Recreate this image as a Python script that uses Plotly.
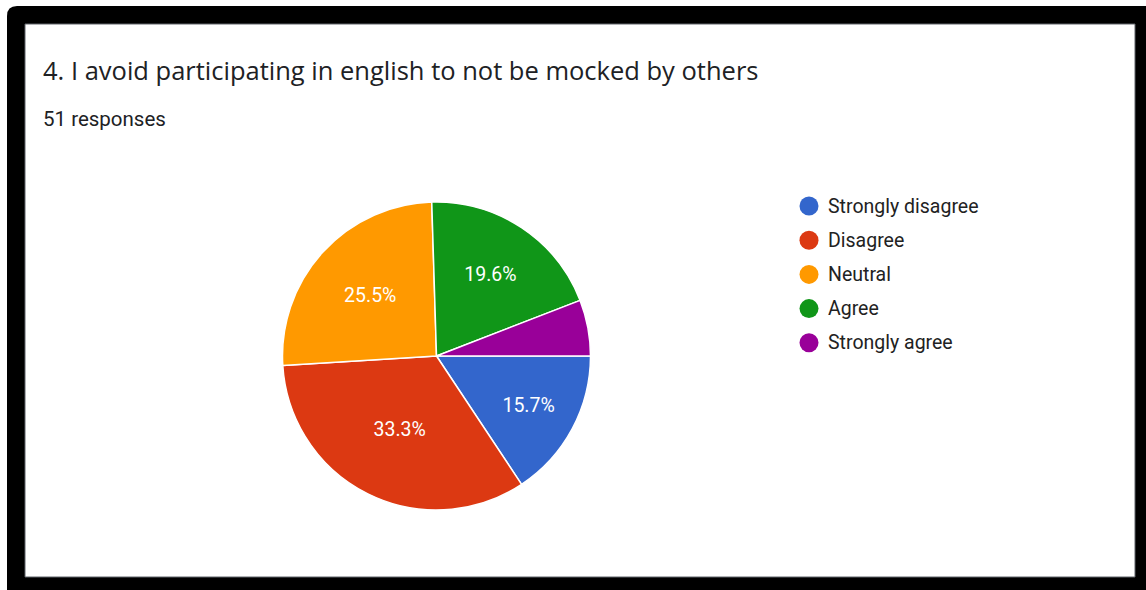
import plotly.graph_objects as go

# Survey answers (51 responses)
categories = ["Strongly disagree", "Disagree", "Neutral", "Agree", "Strongly agree"]
counts = [8, 17, 13, 10, 3]
colors = ["#3366CC", "#DC3912", "#FF9900", "#109618", "#990099"]
title_text = "4. I avoid participating in english to not be mocked by others"
subtitle_text = f"{sum(counts)} responses"

W, H = 1146, 590


def px(x):
    return x / W


def py(y):
    return 1 - y / H


total = sum(counts)
# Small slices get no label, like the Forms summary chart
templates = ["%{percent:.1%}" if c / total >= 0.08 else "" for c in counts]

fig = go.Figure()
cx, cy, r = 436.5, 356, 154
fig.add_trace(go.Pie(
    labels=categories,
    values=counts,
    marker=dict(colors=colors, line=dict(color="white", width=1.5)),
    sort=False,
    direction="clockwise",
    rotation=90,
    texttemplate=templates,
    textposition="inside",
    insidetextorientation="horizontal",
    insidetextfont=dict(family="Roboto, Arial, sans-serif", size=19.5, color="white"),
    hoverinfo="label+percent",
    showlegend=False,
    domain=dict(x=[px(cx - r), px(cx + r)], y=[py(cy + r), py(cy - r)]),
))

shapes = []
# Black outer frame with a rounded top-left corner
rc = 10
frame_path = (
    f"M {px(7)} {py(6 + rc)} Q {px(7)} {py(6)} {px(7 + rc)} {py(6)} "
    f"L {px(W + 5)} {py(6)} L {px(W + 5)} {py(H + 5)} L {px(7)} {py(H + 5)} Z"
)
shapes.append(dict(type="path", xref="paper", yref="paper", path=frame_path,
                   fillcolor="black", line=dict(width=0), layer="below"))
# White card inside the frame
shapes.append(dict(type="rect", xref="paper", yref="paper",
                   x0=px(25), x1=px(1135), y0=py(577), y1=py(24),
                   fillcolor="white", line=dict(color="#5f6368", width=1), layer="below"))

annotations = [
    dict(text=title_text, x=px(41), y=py(70), xref="paper", yref="paper",
         xanchor="left", yanchor="middle", showarrow=False,
         font=dict(family="'Open Sans', Arial, sans-serif", size=25.5, color="#202124")),
    dict(text=subtitle_text, x=px(41), y=py(119), xref="paper", yref="paper",
         xanchor="left", yanchor="middle", showarrow=False,
         font=dict(family="Roboto, Arial, sans-serif", size=20.5, color="#202124")),
]

# Legend: colored dots with category names
lx, ly0, ldy, lr = 809, 206, 34.2, 9.5
for i, (cat, col) in enumerate(zip(categories, colors)):
    yc = ly0 + i * ldy
    shapes.append(dict(type="circle", xref="paper", yref="paper",
                       x0=px(lx - lr), x1=px(lx + lr), y0=py(yc + lr), y1=py(yc - lr),
                       fillcolor=col, line=dict(width=0)))
    annotations.append(dict(text=cat, x=px(826), y=py(yc), xref="paper", yref="paper",
                            xanchor="left", yanchor="middle", showarrow=False,
                            font=dict(family="Roboto, Arial, sans-serif", size=19.5,
                                      color="#222222")))

fig.update_layout(
    width=W, height=H,
    margin=dict(l=0, r=0, t=0, b=0),
    paper_bgcolor="white",
    plot_bgcolor="white",
    shapes=shapes,
    annotations=annotations,
)

fig.write_html("out.html", config={"displayModeBar": False})
